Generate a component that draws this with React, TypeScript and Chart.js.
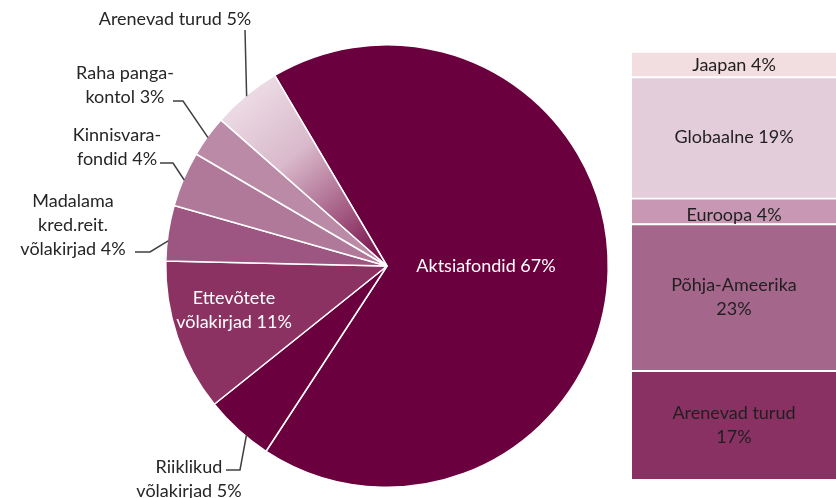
import React, { useEffect, useRef } from "react";
import { Chart, registerables } from "chart.js";

Chart.register(...registerables);

// ---------- data ----------
const pieCategories = [
  "Aktsiafondid",
  "Riiklikud võlakirjad",
  "Ettevõtete võlakirjad",
  "Madalama kred.reit. võlakirjad",
  "Kinnisvarafondid",
  "Raha pangakontol",
  "Arenevad turud",
];
const pieValues = [67, 5, 11, 4, 4, 3, 5];
const pieLabelLines = [
  ["Aktsiafondid 67%"],
  ["Riiklikud", "võlakirjad 5%"],
  ["Ettevõtete", "võlakirjad 11%"],
  ["Madalama", "kred.reit.", "võlakirjad 4%"],
  ["Kinnisvara-", "fondid 4%"],
  ["Raha panga-", "kontol 3%"],
  ["Arenevad turud 5%"],
];

const regionCategories = ["Arenevad turud", "Põhja-Ameerika", "Euroopa", "Globaalne", "Jaapan"];
const regionValues = [17, 23, 4, 19, 4];
const regionLabelLines = [
  ["Arenevad turud", "17%"],
  ["Põhja-Ameerika", "23%"],
  ["Euroopa 4%"],
  ["Globaalne 19%"],
  ["Jaapan 4%"],
];

// ---------- styles / layout ----------
const FONT = "Lato, 'Noto Sans', sans-serif";
const FONT_SIZE = 18;
const LINE_H = 24;
const ROTATION = -30.5;
const pieColors = ["#6b003e", "#6b003e", "#8b3263", "#9d5681", "#b0799a", "#bb8aa6", "GRADIENT"];
const regionColors = ["#8a3164", "#a5668b", "#c897b4", "#e4cdda", "#f2dde0"];

type PieLabelLayout = {
  x: number;
  y: number;
  color: string;
  leader?: { start: [number, number]; elbow?: [number, number]; frac: number };
};
const pieLabelLayout: PieLabelLayout[] = [
  { x: 486, y: 266, color: "#ffffff" },
  { x: 189, y: 467, color: "#262626", leader: { start: [226, 470], elbow: [240, 470], frac: 0.36 } },
  { x: 234, y: 298, color: "#ffffff" },
  { x: 73, y: 201, color: "#262626", leader: { start: [135, 252], elbow: [150, 252], frac: 0.36 } },
  { x: 117, y: 135, color: "#262626", leader: { start: [160, 163], elbow: [173, 163], frac: 0.49 } },
  { x: 125, y: 73, color: "#262626", leader: { start: [173, 101], elbow: [183, 101], frac: 0.48 } },
  { x: 175, y: 19, color: "#262626", leader: { start: [245, 30], frac: 0.5 } },
];
const regionLabelOffsetY = [0, 0, 4, 0, 1];

const pieLabelPlugin = {
  id: "pieLabels",
  afterDatasetsDraw(chart: any) {
    const ctx = chart.ctx;
    const meta = chart.getDatasetMeta(0);
    ctx.save();
    ctx.font = `${FONT_SIZE}px ${FONT}`;
    ctx.textAlign = "center";
    ctx.textBaseline = "middle";
    meta.data.forEach((arc: any, i: number) => {
      const lay = pieLabelLayout[i];
      if (lay.leader) {
        const a = arc.startAngle + lay.leader.frac * (arc.endAngle - arc.startAngle);
        const r = arc.outerRadius - 1;
        const ex = arc.x + r * Math.cos(a);
        const ey = arc.y + r * Math.sin(a);
        ctx.strokeStyle = "#404040";
        ctx.lineWidth = 1.5;
        ctx.beginPath();
        ctx.moveTo(lay.leader.start[0], lay.leader.start[1]);
        if (lay.leader.elbow) ctx.lineTo(lay.leader.elbow[0], lay.leader.elbow[1]);
        ctx.lineTo(ex, ey);
        ctx.stroke();
      }
      ctx.fillStyle = lay.color;
      pieLabelLines[i].forEach((t, k) => ctx.fillText(t, lay.x, lay.y + k * LINE_H));
    });
    ctx.restore();
  },
};

const barLabelPlugin = {
  id: "barLabels",
  afterDatasetsDraw(chart: any) {
    const ctx = chart.ctx;
    ctx.save();
    ctx.font = `${FONT_SIZE}px ${FONT}`;
    ctx.textAlign = "center";
    ctx.textBaseline = "middle";
    ctx.fillStyle = "#1f1f1f";
    chart.data.datasets.forEach((_: any, i: number) => {
      const bar: any = chart.getDatasetMeta(i).data[0];
      const lines = regionLabelLines[i];
      const cy = (bar.y + bar.base) / 2 + regionLabelOffsetY[i];
      const y0 = cy - ((lines.length - 1) * LINE_H) / 2;
      lines.forEach((t, k) => ctx.fillText(t, bar.x, y0 + k * LINE_H));
    });
    ctx.restore();
  },
};

export default function App() {
  const pieRef = useRef<HTMLCanvasElement>(null);
  const barRef = useRef<HTMLCanvasElement>(null);

  useEffect(() => {
    const total = pieValues.reduce((s, v) => s + v, 0);
    const gradientFor = (c: any) => {
      const chart = c.chart;
      const area = chart.chartArea;
      if (!area) return "#d9b8ca";
      const cx = (area.left + area.right) / 2;
      const cy = (area.top + area.bottom) / 2;
      const r = Math.min(area.right - area.left, area.bottom - area.top) / 2;
      const before = pieValues.slice(0, c.dataIndex).reduce((s, v) => s + v, 0);
      const mid = before + pieValues[c.dataIndex] / 2;
      const a = (ROTATION - 90) * (Math.PI / 180) + (2 * Math.PI * mid) / total;
      const ox = cx + r * Math.cos(a);
      const oy = cy + r * Math.sin(a);
      const g = chart.ctx.createLinearGradient(ox, oy, cx, cy);
      g.addColorStop(0, "#ecdbe4");
      g.addColorStop(0.35, "#d9b9cb");
      g.addColorStop(0.75, "#9a4a76");
      g.addColorStop(1, "#6b003e");
      return g;
    };

    const pie = new Chart(pieRef.current!, {
      type: "pie",
      data: {
        labels: pieCategories,
        datasets: [
          {
            data: pieValues,
            backgroundColor: (c: any) =>
              pieColors[c.dataIndex] === "GRADIENT" ? gradientFor(c) : pieColors[c.dataIndex],
            borderColor: "#ffffff",
            borderWidth: 1.5,
          } as any,
        ],
      },
      options: {
        animation: false,
        responsive: false,
        rotation: ROTATION,
        layout: { padding: { left: 165, top: 44, right: 227, bottom: 10 } },
        plugins: { legend: { display: false }, tooltip: { enabled: false } },
      },
      plugins: [pieLabelPlugin],
    });

    const bar = new Chart(barRef.current!, {
      type: "bar",
      data: {
        labels: ["Aktsiafondid"],
        datasets: regionCategories.map((name, i) => ({
          label: name,
          data: [regionValues[i]],
          backgroundColor: regionColors[i],
          borderColor: "#ffffff",
          borderWidth: { top: 2, bottom: 0, left: 0, right: 0 },
          borderSkipped: false,
          categoryPercentage: 1,
          barPercentage: 1,
        })) as any,
      },
      options: {
        animation: false,
        responsive: false,
        layout: { padding: { left: 0, right: 0, top: 51, bottom: 19 } },
        scales: {
          x: { stacked: true, display: false },
          y: {
            stacked: true,
            display: false,
            min: 0,
            max: regionValues.reduce((s, v) => s + v, 0),
          },
        },
        plugins: { legend: { display: false }, tooltip: { enabled: false } },
      },
      plugins: [barLabelPlugin],
    });

    return () => {
      pie.destroy();
      bar.destroy();
    };
  }, []);

  return (
    <div style={{ position: "fixed", left: 0, top: 0, width: 836, height: 498, background: "#ffffff" }}>
      <canvas ref={pieRef} width={836} height={498} style={{ position: "absolute", left: 0, top: 0 }} />
      <canvas ref={barRef} width={204} height={498} style={{ position: "absolute", left: 632, top: 0 }} />
    </div>
  );
}
